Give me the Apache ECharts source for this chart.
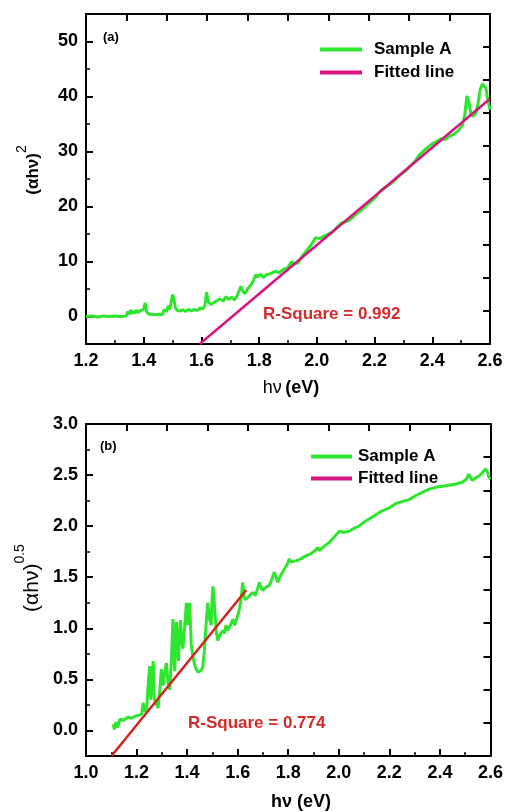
<!DOCTYPE html>
<html>
<head>
<meta charset="utf-8">
<script src="https://cdn.jsdelivr.net/npm/echarts@6/dist/echarts.min.js"></script>
<style>html,body{margin:0;padding:0;background:#fff;}#c{width:506px;height:812px;}</style>
</head>
<body>
<div id="c"></div>
<script>
// ---------- Panel (a) data ----------
const xA = [1.200,1.220,1.240,1.260,1.280,1.300,1.320,1.340,1.345,1.350,1.355,1.360,1.365,1.370,1.375,1.380,1.390,1.395,1.400,1.405,1.410,1.420,1.435,1.450,1.465,1.470,1.480,1.485,1.490,1.495,1.500,1.505,1.510,1.516,1.525,1.535,1.545,1.555,1.565,1.575,1.585,1.595,1.605,1.612,1.618,1.624,1.633,1.645,1.655,1.665,1.675,1.685,1.695,1.705,1.715,1.725,1.737,1.745,1.752,1.760,1.772,1.780,1.788,1.795,1.805,1.815,1.825,1.840,1.855,1.870,1.885,1.900,1.912,1.920,1.935,1.950,1.965,1.980,1.995,2.010,2.025,2.040,2.055,2.070,2.085,2.100,2.115,2.130,2.145,2.160,2.175,2.190,2.205,2.220,2.235,2.250,2.265,2.280,2.295,2.310,2.325,2.340,2.355,2.370,2.385,2.400,2.415,2.430,2.445,2.460,2.475,2.490,2.505,2.512,2.520,2.527,2.534,2.542,2.550,2.558,2.566,2.574,2.580,2.586,2.592,2.600];
const yA = [0.0,0.1,-0.1,0.1,0.0,0.1,0.0,0.1,0.9,0.4,1.2,0.5,1.0,0.6,1.2,0.7,1.1,0.8,1.3,2.5,0.8,0.4,0.3,0.4,0.3,1.2,0.9,2.0,1.3,2.6,4.0,3.0,1.6,1.1,1.0,1.2,0.9,1.3,1.0,1.3,1.1,1.5,1.4,2.0,4.4,2.6,2.2,2.6,2.9,3.2,2.8,3.6,3.1,3.5,3.0,3.9,5.5,4.4,4.2,5.0,5.8,6.5,7.6,7.2,7.7,7.1,7.6,7.8,8.2,8.0,8.6,8.9,10.0,9.5,9.8,11.0,12.0,13.0,14.3,14.2,14.6,15.0,15.4,16.2,17.0,17.2,17.6,18.3,19.0,19.6,20.4,21.0,21.8,22.8,23.4,23.9,24.5,25.3,26.0,26.6,27.4,28.2,29.4,30.1,30.8,31.4,31.8,32.3,32.2,32.8,33.1,33.8,34.8,36.5,40.1,39.0,36.7,36.4,36.9,38.5,41.3,42.3,42.6,41.5,39.5,37.6];
const fitXA = [1.594, 2.600];
const fitYA = [-5.0, 39.6];

// ---------- Panel (b) data ----------
const xB = [1.108,1.112,1.118,1.125,1.134,1.150,1.165,1.180,1.195,1.210,1.220,1.226,1.233,1.240,1.246,1.252,1.256,1.262,1.266,1.270,1.278,1.285,1.292,1.298,1.305,1.312,1.318,1.324,1.331,1.338,1.344,1.348,1.351,1.355,1.358,1.362,1.366,1.370,1.374,1.378,1.383,1.390,1.397,1.403,1.407,1.410,1.416,1.423,1.430,1.436,1.443,1.449,1.456,1.462,1.468,1.473,1.478,1.482,1.488,1.495,1.499,1.502,1.506,1.510,1.516,1.522,1.528,1.535,1.542,1.548,1.554,1.561,1.568,1.575,1.581,1.588,1.594,1.600,1.607,1.614,1.620,1.625,1.630,1.640,1.650,1.660,1.670,1.680,1.686,1.692,1.699,1.710,1.725,1.735,1.745,1.752,1.758,1.770,1.785,1.795,1.804,1.810,1.817,1.830,1.850,1.870,1.890,1.910,1.917,1.923,1.940,1.962,1.980,2.002,2.020,2.041,2.060,2.080,2.100,2.120,2.145,2.172,2.200,2.225,2.250,2.278,2.305,2.330,2.355,2.383,2.410,2.435,2.460,2.488,2.505,2.514,2.520,2.527,2.540,2.554,2.567,2.580,2.588,2.593,2.600];
const yB = [0.06,0.01,0.08,0.03,0.11,0.10,0.13,0.12,0.14,0.15,0.16,0.27,0.18,0.22,0.45,0.63,0.30,0.55,0.68,0.31,0.26,0.22,0.40,0.60,0.44,0.58,0.66,0.48,0.40,0.70,1.09,0.75,0.58,0.95,1.06,0.80,0.68,0.95,1.08,0.90,0.80,1.00,1.25,1.03,1.15,1.25,0.85,0.72,0.64,0.60,0.57,0.57,0.59,0.62,0.78,0.96,1.15,1.25,1.10,1.03,1.30,1.41,1.30,1.15,0.95,0.88,0.93,0.92,0.98,0.95,1.03,0.98,0.99,1.05,1.09,1.03,1.08,1.12,1.19,1.30,1.45,1.32,1.28,1.30,1.33,1.35,1.32,1.40,1.45,1.40,1.37,1.40,1.42,1.48,1.55,1.50,1.45,1.52,1.58,1.62,1.68,1.65,1.64,1.66,1.68,1.71,1.73,1.77,1.79,1.76,1.80,1.84,1.89,1.95,1.94,1.95,1.98,2.00,2.04,2.07,2.11,2.15,2.18,2.22,2.24,2.26,2.30,2.33,2.36,2.38,2.39,2.40,2.41,2.43,2.46,2.51,2.48,2.45,2.47,2.49,2.52,2.56,2.53,2.48,2.46];
const fitXB = [1.101, 1.634];
const fitYB = [-0.25, 1.375];

// ---------- Tick values ----------
const yTicksA = [0, 10, 20, 30, 40, 50];
const yMinorA = [5, 15, 25, 35, 45];
const rightTicksA = [1, 7, 13, 19, 25, 31, 37, 43, 49];
const topTicksA = [1.34, 1.48, 1.62, 1.76, 1.90, 2.04, 2.18, 2.32, 2.46];
const yTicksB = [0.0, 0.5, 1.0, 1.5, 2.0, 2.5, 3.0];
const yMinorB = [0.25, 0.75, 1.25, 1.75, 2.25, 2.75];
const rightTicksB = [0.075, 0.4, 0.725, 1.05, 1.375, 1.7, 2.025, 2.35, 2.675];
const topTicksB = [1.16, 1.32, 1.48, 1.64, 1.80, 1.96, 2.12, 2.28, 2.44];

const legendNames = ['Sample A', 'Fitted line'];
const rSquareA = 'R-Square = 0.992';
const rSquareB = 'R-Square = 0.774';

const FONT = '"Liberation Sans", Arial, sans-serif';
const GREEN = '#2ee62e';
const MAGENTA = '#d8157f';
const RED = '#d0241c';
const TXTRED = '#d42a2a';

const pairs = (xs, ys) => xs.map((x, i) => [x, ys[i]]);

const axisLineStyle = { show: true, onZero: false, lineStyle: { color: '#000', width: 2 } };
const lbl = { color: '#000', fontSize: 18, fontWeight: 'bold', fontFamily: FONT };

function bottomX(grid, min, max) {
  return {
    type: 'value', gridIndex: grid, position: 'bottom', min: min, max: max, interval: 0.2,
    axisLine: axisLineStyle,
    axisTick: { show: true, inside: true, length: 7, lineStyle: { color: '#000', width: 2 } },
    minorTick: { show: true, splitNumber: 2, length: 4, lineStyle: { color: '#000', width: 1.5 } },
    axisLabel: Object.assign({ margin: 8, formatter: v => v.toFixed(1) }, lbl),
    splitLine: { show: false }, minorSplitLine: { show: false }
  };
}
function topX(grid, min, max, ticks) {
  return {
    type: 'value', gridIndex: grid, position: 'top', min: min, max: max,
    axisLine: axisLineStyle,
    axisTick: { show: true, inside: true, length: 7, customValues: ticks, lineStyle: { color: '#000', width: 2 } },
    axisLabel: { show: false }, splitLine: { show: false }
  };
}
function leftY(grid, min, max, ticks, fmt) {
  return {
    type: 'value', gridIndex: grid, position: 'left', min: min, max: max,
    axisLine: axisLineStyle,
    axisTick: { show: true, inside: true, length: 7, customValues: ticks, lineStyle: { color: '#000', width: 2 } },
    axisLabel: Object.assign({ margin: 8, customValues: ticks, formatter: fmt }, lbl),
    splitLine: { show: false }
  };
}
function minorY(grid, min, max, ticks) {
  return {
    type: 'value', gridIndex: grid, position: 'left', min: min, max: max,
    axisLine: { show: false, onZero: false },
    axisTick: { show: true, inside: true, length: 4, customValues: ticks, lineStyle: { color: '#000', width: 1.5 } },
    axisLabel: { show: false }, splitLine: { show: false }
  };
}
function rightY(grid, min, max, ticks) {
  return {
    type: 'value', gridIndex: grid, position: 'right', min: min, max: max,
    axisLine: axisLineStyle,
    axisTick: { show: true, inside: true, length: 7, customValues: ticks, lineStyle: { color: '#000', width: 2 } },
    axisLabel: { show: false }, splitLine: { show: false }
  };
}

const legendText = { color: '#000', fontSize: 17, fontWeight: 'bold', fontFamily: FONT, lineHeight: 17 };

const option = {
  animation: false,
  backgroundColor: '#fff',
  grid: [
    { left: 86, top: 14, width: 404, height: 330 },
    { left: 86, top: 424, width: 406, height: 332 }
  ],
  xAxis: [
    bottomX(0, 1.2, 2.6), topX(0, 1.2, 2.6, topTicksA),
    bottomX(1, 1.0, 2.6), topX(1, 1.0, 2.6, topTicksB)
  ],
  yAxis: [
    leftY(0, -5, 55, yTicksA, v => String(v)), minorY(0, -5, 55, yMinorA), rightY(0, -5, 55, rightTicksA),
    leftY(1, -0.25, 3.0, yTicksB, v => v.toFixed(1)), minorY(1, -0.25, 3.0, yMinorB), rightY(1, -0.25, 3.0, rightTicksB)
  ],
  legend: [
    {
      left: 315, top: 36, orient: 'vertical', icon: 'rect', itemWidth: 42, itemHeight: 4, itemGap: 6,
      textStyle: Object.assign({ padding: [0, 0, 0, 7] }, legendText),
      selectedMode: false,
      data: [
        { name: legendNames[0], itemStyle: { color: GREEN } },
        { name: legendNames[1], itemStyle: { color: MAGENTA } }
      ]
    },
    {
      left: 306, top: 443, orient: 'vertical', icon: 'rect', itemWidth: 41, itemHeight: 4, itemGap: 5,
      textStyle: Object.assign({ padding: [0, 0, 0, 1] }, legendText),
      selectedMode: false,
      data: [
        { name: legendNames[0], itemStyle: { color: GREEN } },
        { name: legendNames[1], itemStyle: { color: MAGENTA } }
      ]
    }
  ],
  series: [
    { name: legendNames[0], type: 'line', xAxisIndex: 0, yAxisIndex: 0, data: pairs(xA, yA),
      symbol: 'none', lineStyle: { color: GREEN, width: 3 }, itemStyle: { color: GREEN }, z: 2 },
    { name: legendNames[1], type: 'line', xAxisIndex: 0, yAxisIndex: 0, data: pairs(fitXA, fitYA),
      symbol: 'none', lineStyle: { color: MAGENTA, width: 2.5 }, itemStyle: { color: MAGENTA }, z: 3 },
    { name: legendNames[0], type: 'line', xAxisIndex: 2, yAxisIndex: 3, data: pairs(xB, yB),
      symbol: 'none', lineStyle: { color: GREEN, width: 3 }, itemStyle: { color: GREEN }, z: 2 },
    { name: legendNames[1], type: 'line', xAxisIndex: 2, yAxisIndex: 3, data: pairs(fitXB, fitYB),
      symbol: 'none', lineStyle: { color: RED, width: 2.5 }, itemStyle: { color: RED }, z: 3 }
  ],
  graphic: [
    { type: 'text', x: 103, y: 37, style: { text: '(a)', font: 'bold 13px ' + FONT, fill: '#000', textVerticalAlign: 'middle' } },
    { type: 'text', x: 100, y: 446, style: { text: '(b)', font: 'bold 13px ' + FONT, fill: '#000', textVerticalAlign: 'middle' } },
    { type: 'text', x: 263, y: 314, style: { text: rSquareA, font: 'bold 17px ' + FONT, fill: TXTRED, textVerticalAlign: 'middle' } },
    { type: 'text', x: 188, y: 723, style: { text: rSquareB, font: 'bold 17px ' + FONT, fill: TXTRED, textVerticalAlign: 'middle' } },
    { type: 'text', x: 291, y: 388, style: {
        text: '{n|hν} {b|(eV)}', textAlign: 'center', textVerticalAlign: 'middle', fill: '#000',
        rich: { n: { fontSize: 18, fontFamily: FONT, fill: '#000' }, b: { fontSize: 18, fontWeight: 'bold', fontFamily: FONT, fill: '#000' } } } },
    { type: 'text', x: 301, y: 802, style: {
        text: '{b|hν (eV)}', textAlign: 'center', textVerticalAlign: 'middle', fill: '#000',
        rich: { b: { fontSize: 18, fontWeight: 'bold', fontFamily: FONT, fill: '#000' } } } },
    { type: 'text', x: 33, y: 170, rotation: Math.PI / 2, style: {
        text: '{b|(αhν)}{s|2}', textAlign: 'center', textVerticalAlign: 'middle', fill: '#000',
        rich: { b: { fontSize: 17, fontWeight: 'bold', fontFamily: FONT, fill: '#000' },
                s: { fontSize: 14, fontFamily: FONT, fill: '#000', padding: [0, 0, 22, 0] } } } },
    { type: 'text', x: 32, y: 578, rotation: Math.PI / 2, style: {
        text: '{b|(αhν)}{s|0.5}', textAlign: 'center', textVerticalAlign: 'middle', fill: '#000',
        rich: { b: { fontSize: 21, fontFamily: FONT, fill: '#000' },
                s: { fontSize: 14, fontFamily: FONT, fill: '#000', padding: [0, 0, 24, 0] } } } }
  ]
};

const chart = echarts.init(document.getElementById('c'), null, { renderer: 'canvas' });
chart.setOption(option);
</script>
</body>
</html>
